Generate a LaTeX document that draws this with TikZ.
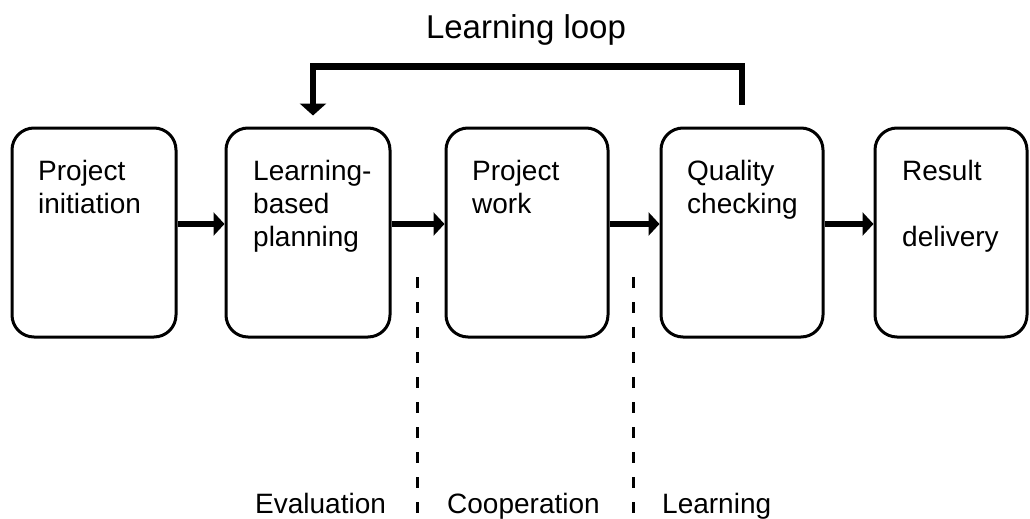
\documentclass[tikz,border=0pt]{standalone}
\usepackage{fontspec}
\setmainfont{Liberation Sans}
\usetikzlibrary{arrows.meta,calc}
\begin{document}
\begin{tikzpicture}[x=1pt,y=-1pt,
  stage/.style={draw, line width=3pt, rounded corners=22pt, minimum height=209pt, inner sep=0pt},
  stagetext/.style={anchor=base west, align=left, text width=132pt, inner sep=0pt, font=\fontsize{28}{33}\selectfont},
  flow/.style={line width=6pt, -{Triangle[length=11pt,width=23pt]}},
  looparrow/.style={line width=6.5pt, -{Triangle[length=12pt,width=26pt]}},
  divider/.style={line width=3pt, dash pattern=on 11pt off 14pt},
  lowlabel/.style={anchor=base west, inner sep=0pt, font=\fontsize{28}{33}\selectfont},
]
\useasboundingbox (0,0) rectangle (1030,519);

% stages
\node[stage, minimum width=164pt] (b1) at (94,232.5) {};
\node[stage, minimum width=164pt] (b2) at (308,232.5) {};
\node[stage, minimum width=162pt] (b3) at (527,232.5) {};
\node[stage, minimum width=162pt] (b4) at (742,232.5) {};
\node[stage, minimum width=152pt] (b5) at (951,232.5) {};

% stage texts
\node[stagetext] (t1) at (38,180) {Project\\initiation};
\node[stagetext] (t2) at (253,180) {Learning-\\based\\planning};
\node[stagetext] (t3) at (472,180) {Project\\work};
\node[stagetext] (t4) at (687,180) {Quality\\checking};
\node[stagetext] (t5) at (902,180) {Result\\[33pt]delivery};

% flow arrows
\draw[flow] ($(b1.east)+(0,-8.5)$) -- ($(b2.west)+(0,-8.5)$);
\draw[flow] ($(b2.east)+(0,-8.5)$) -- ($(b3.west)+(0,-8.5)$);
\draw[flow] ($(b3.east)+(0,-8.5)$) -- ($(b4.west)+(0,-8.5)$);
\draw[flow] ($(b4.east)+(0,-8.5)$) -- ($(b5.west)+(0,-8.5)$);

% learning loop
\coordinate (ls) at ($(b4.north)+(0,-22)$);
\coordinate (le) at ($(b2.north)+(5,-11)$);
\draw[looparrow] (ls) -- ++(0,-38) -| (le);
\node[anchor=base, inner sep=0pt, font=\fontsize{33}{38}\selectfont] (title) at (526,39) {Learning loop};

% dividers
\coordinate (d1s) at (417,277);
\coordinate (d1e) at (417,519);
\coordinate (d2s) at (633,277);
\coordinate (d2e) at (633,519);
\draw[divider] (d1s) -- (d1e);
\draw[divider] (d2s) -- (d2e);

% bottom labels
\node[lowlabel] (ev) at (255,513) {Evaluation};
\node[lowlabel] (co) at (447,513) {Cooperation};
\node[lowlabel] (lr) at (662,513) {Learning};
\end{tikzpicture}
\end{document}
